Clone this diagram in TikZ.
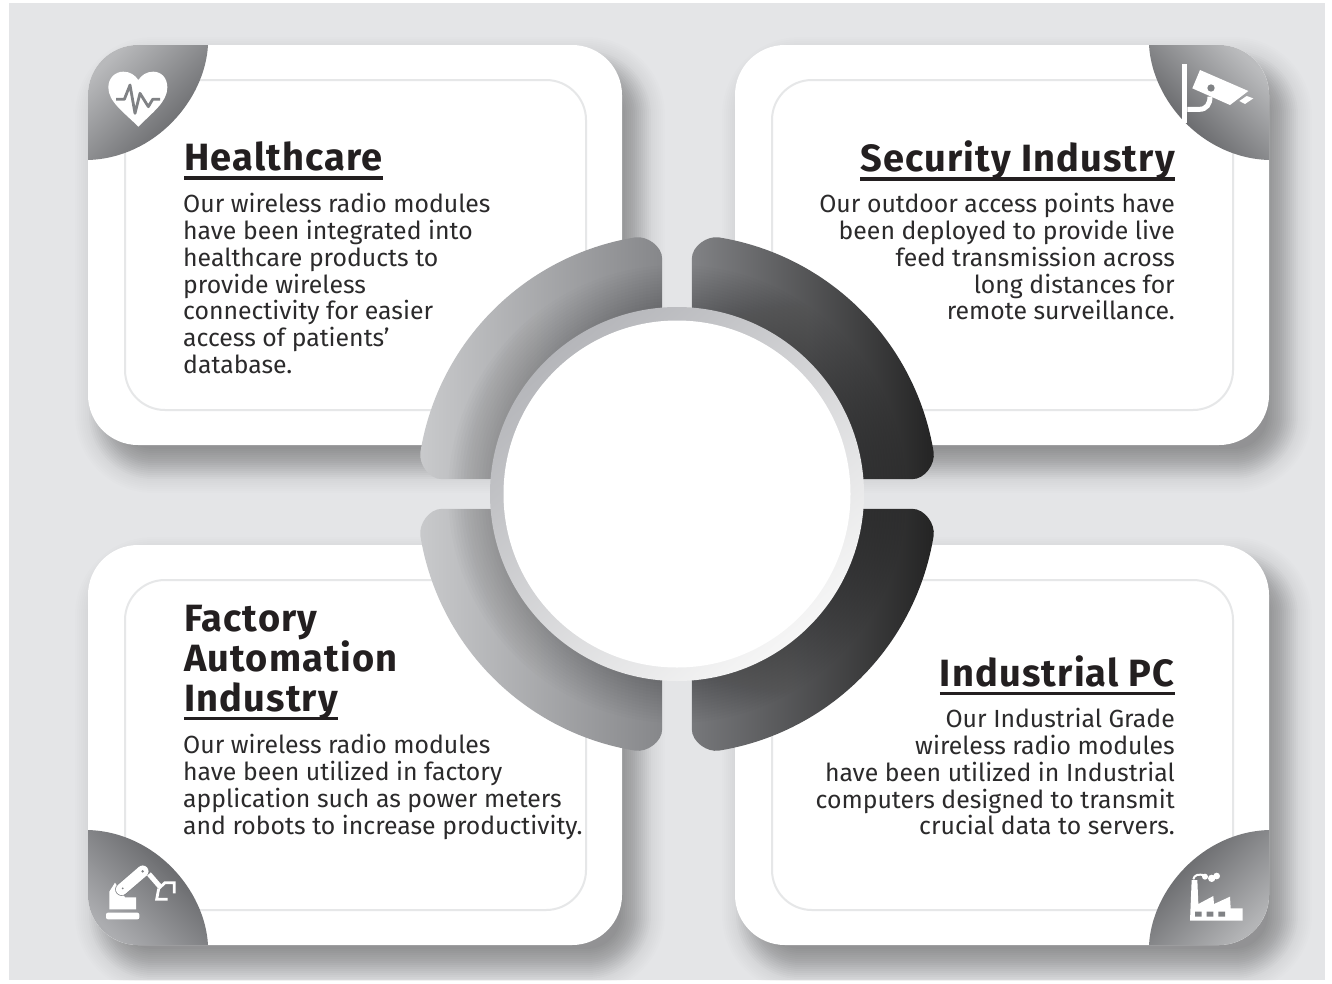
\documentclass[tikz,border=0pt]{standalone}
\usepackage{fontspec}
\setmainfont{Fira Sans}
\newfontfamily\headfont{Fira Sans}[UprightFont=*-Bold,LetterSpace=3.1]
\definecolor{bgc}{HTML}{E4E5E7}
\definecolor{linec}{HTML}{E6E7E8}
\definecolor{inkc}{HTML}{231F20}
\definecolor{bodyc}{HTML}{2B2A2B}
\definecolor{icong}{HTML}{808285}
\definecolor{lfa}{HTML}{B8B9BB}\definecolor{lfb}{HTML}{5C5D60}
\definecolor{lfc}{HTML}{BBBCBE}\definecolor{lfd}{HTML}{545558}
\definecolor{lfe}{HTML}{ACADB0}\definecolor{lff}{HTML}{58595C}
\definecolor{lfg}{HTML}{B4B5B7}\definecolor{lfh}{HTML}{595A5D}
\definecolor{sga}{HTML}{C9CACC}\definecolor{sgb}{HTML}{86878A}
\definecolor{sgc}{HTML}{818285}\definecolor{sgd}{HTML}{232323}
\definecolor{sge}{HTML}{77787B}
\definecolor{rga}{HTML}{B5B6BA}\definecolor{rgb}{HTML}{F6F6F6}
\newcommand\headu[1]{\setbox0\hbox{#1}\rlap{\rule[-9pt]{\wd0}{3.5pt}}\box0}
\newcommand\fl{\rule{0pt}{18.76pt}}
\newcommand\segpath[2]{({677+(#1)*14.8},{494-(#2)*150}) -- ({677+(#1)*14.8},{494-(#2)*235})
 .. controls ({677+(#1)*14.8},{494-(#2)*248}) and ({677+(#1)*30.2},{494-(#2)*258.5}) .. ({677+(#1)*42},{494-(#2)*256.6})
 .. controls ({677+(#1)*152.2},{494-(#2)*238.6}) and ({677+(#1)*238.6},{494-(#2)*152.2}) .. ({677+(#1)*256.6},{494-(#2)*42})
 .. controls ({677+(#1)*258.5},{494-(#2)*30.2}) and ({677+(#1)*248},{494-(#2)*14.8}) .. ({677+(#1)*235},{494-(#2)*14.8})
 -- ({677+(#1)*150},{494-(#2)*14.8}) -- cycle}
\newcommand\shadowlayer[4]{\fill[black,opacity=#4,rounded corners={(50+#3)*1pt}] ({#1+15-#3},{#2+20-#3}) rectangle ({#1+534+15+#3},{#2+400+20+#3});}
\newcommand\cardshadow[2]{%
 \foreach \e in {-16,-14,...,28}{\shadowlayer{#1}{#2}{\e}{.006}}%
 \foreach \e in {-16,-14,...,14}{\shadowlayer{#1}{#2}{\e}{.011}}}
\newcommand\segment[4]{\shade[left color=#3,right color=#4] \segpath{#1}{#2};
 \begin{scope}\clip \segpath{#1}{#2};
 \foreach \r in {187,190,...,229}{\fill[black,opacity=.012] (677,494) circle[radius=\r];}
 \end{scope}}
\tikzset{
 card/.style={fill=white,rounded corners=50pt},
 innerline/.style={draw=linec,line width=2pt,rounded corners=40pt},
 heading/.style={font=\headfont\fontsize{38}{40}\selectfont,text=inkc,inner sep=0pt},
 bodytext/.style={font=\fontsize{24.8}{26.8}\selectfont,text=bodyc,inner sep=0pt},
 iconframe/.style={x=0.33333pt,y=-0.33333pt}
}
\begin{document}
\begin{tikzpicture}[x=1pt,y=-1pt]
\useasboundingbox (0,0) rectangle (1332,983);
\fill[white] (0,0) rectangle (1332,983);
\fill[bgc] (9,3) rectangle (1325,980);
% shadows
\begin{scope}
\clip (9,3) rectangle (1325,980);
\cardshadow{88}{45}\cardshadow{735}{45}\cardshadow{88}{545}\cardshadow{735}{545}
\end{scope}
% cards
\fill[card] (88,45) rectangle (622,445);
\fill[card] (735,45) rectangle (1269,445);
\fill[card] (88,545) rectangle (622,945);
\fill[card] (735,545) rectangle (1269,945);
\draw[innerline] (125,80) rectangle (586,410);
\draw[innerline] (772,80) rectangle (1233,410);
\draw[innerline] (125,580) rectangle (586,910);
\draw[innerline] (772,580) rectangle (1233,910);
% corner leaves
\shade[top color=lfa,bottom color=lfb,shading angle=45]
 (208,45) .. controls (205,100) and (155,158) .. (88,160) -- (88,95) .. controls (88,67.4) and (110.4,45) .. (138,45) -- cycle;
\shade[top color=lfc,bottom color=lfd,shading angle=-45]
 (1149,45) .. controls (1152,100) and (1202,158) .. (1269,160) -- (1269,95) .. controls (1269,67.4) and (1246.6,45) .. (1219,45) -- cycle;
\shade[top color=lfe,bottom color=lff,shading angle=135]
 (208,945) .. controls (205,890) and (155,832) .. (88,830) -- (88,895) .. controls (88,922.6) and (110.4,945) .. (138,945) -- cycle;
\shade[top color=lfg,bottom color=lfh,shading angle=225]
 (1149,945) .. controls (1152,890) and (1202,832) .. (1269,830) -- (1269,895) .. controls (1269,922.6) and (1246.6,945) .. (1219,945) -- cycle;
% heart
\begin{scope}[shift={(80,30)},iconframe]
\fill[white] (175,290) .. controls (130,245) and (85,215) .. (85,172) .. controls (85,145) and (105,125) .. (130,125) .. controls (150,125) and (165,135) .. (175,150) .. controls (185,135) and (200,125) .. (220,125) .. controls (245,125) and (262,145) .. (262,172) .. controls (262,215) and (220,245) .. (175,290) -- cycle;
\draw[icong,line width=2.8pt,line join=round] (108,208) -- (133,208) -- (150,165) -- (165,250) -- (180,190) -- (205,230) -- (218,208) -- (240,208);
\end{scope}
% camera
\begin{scope}[shift={(1110,30)},iconframe]
\fill[white] (215,103) rectangle (232,280);
\draw[white,line width=5pt] (232,238) -- (268,238) .. controls (290,238) and (300,222) .. (300,200);
\fill[white] (270,120) -- (415,183) -- (360,225) -- (247,175) -- cycle;
\fill[white] (388,213) -- (410,198) -- (430,205) -- (405,222) -- cycle;
\fill[icong] (303,174) circle[radius=11];
\end{scope}
% robot
\begin{scope}[shift={(80,810)},iconframe]
\fill[white,rounded corners=2pt] (78,308) rectangle (178,328);
\fill[white] (88,298) -- (88,245) -- (105,218) -- (135,262) -- (168,262) -- (168,298) -- cycle;
\draw[icong,line width=13pt,line cap=round] (125,238) -- (188,184);
\draw[white,line width=11.5pt,line cap=round] (125,238) -- (188,184);
\fill[white] (188,184) circle[radius=17];
\fill[icong] (188,184) circle[radius=4];
\fill[icong] (128,235) circle[radius=3];
\draw[white,line width=5pt] (207,192) -- (240,230);
\draw[white,line width=2.8pt] (236,236) -- (255,218) -- (283,218) -- (283,250);
\draw[white,line width=2.8pt] (236,236) -- (230,268) -- (263,268);
\end{scope}
% factory
\begin{scope}[shift={(1110,810)},iconframe]
\fill[white] (240,332) -- (245,210) -- (262,210) -- (265,282) -- (310,258) -- (312,282) -- (360,260) -- (362,295) -- (398,295) -- (398,332) -- cycle;
\fill[icong] (255,305) rectangle (275,320) (290,305) rectangle (310,320) (325,305) rectangle (345,320);
\draw[white,line width=2pt] (250,208) .. controls (252,195) and (265,190) .. (285,197);
\fill[white] (285,200) circle[radius=9] (305,205) circle[radius=11] (320,198) circle[radius=10];
\end{scope}
% texts
\node[heading,anchor=base west] (h1) at (184,170.5) {\headu{Healthcare}};
\node[bodytext,anchor=north west,align=left] (b1) at (183,193.2) {\fl Our wireless radio modules\\have been integrated into\\healthcare products to\\provide wireless\\connectivity for easier\\access of patients’\\database.};
\node[heading,anchor=base east] (h2) at (1175,171.5) {\headu{Security Industry}};
\node[bodytext,anchor=north east,align=right] (b2) at (1175,193.2) {\fl Our outdoor access points have\\been deployed to provide live\\feed transmission across\\long distances for\\remote surveillance.};
\node[heading,anchor=base west] (h3a) at (184,631) {Factory};
\node[heading,anchor=base west] (h3b) at (184,671) {Automation};
\node[heading,anchor=base west] (h3c) at (184,711) {\headu{Industry}};
\node[bodytext,anchor=north west,align=left] (b3) at (183,734.2) {\fl Our wireless radio modules\\have been utilized in factory\\application such as power meters\\and robots to increase productivity.};
\node[heading,anchor=base east] (h4) at (1175,686) {\headu{Industrial PC}};
\node[bodytext,anchor=north east,align=right] (b4) at (1175,708.2) {\fl Our Industrial Grade\\wireless radio modules\\have been utilized in Industrial\\computers designed to transmit\\crucial data to servers.};
% centre segments
\segment{-1}{1}{sga}{sgb}
\segment{1}{1}{sgc}{sgd}
\segment{-1}{-1}{sga}{sgb}
\segment{1}{-1}{sge}{sgd}
\shade[top color=rga,bottom color=rgb,shading angle=40] (677,494) circle[radius=187];
\fill[white] (677,494) circle[radius=173.5];
\end{tikzpicture}
\end{document}
